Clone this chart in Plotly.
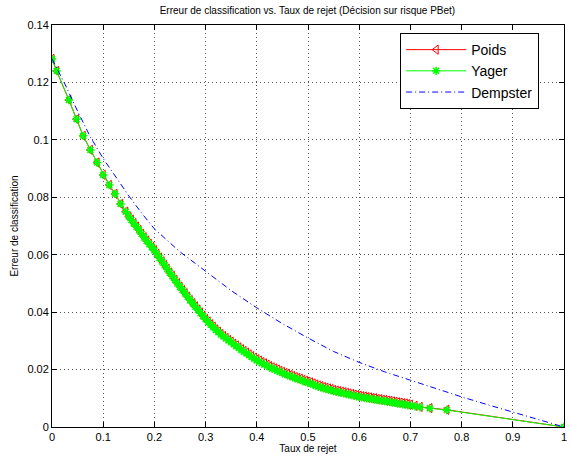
import plotly.graph_objects as go

# ---- data ----
x_main = [0.000, 0.009, 0.033, 0.048, 0.061, 0.075, 0.088, 0.100, 0.112, 0.123, 0.134, 0.144, 0.150,
          0.155, 0.160, 0.165, 0.170, 0.175, 0.180, 0.185, 0.190, 0.195, 0.200,
          0.205, 0.210, 0.215, 0.220, 0.225, 0.230, 0.235, 0.240, 0.245, 0.250,
          0.255, 0.260, 0.265, 0.270, 0.275, 0.280, 0.285, 0.290, 0.295, 0.300,
          0.305, 0.310, 0.315, 0.320, 0.325, 0.330, 0.335, 0.340, 0.345, 0.350,
          0.355, 0.360, 0.365, 0.370, 0.375, 0.380, 0.385, 0.390, 0.395, 0.400,
          0.405, 0.410, 0.415, 0.420, 0.425, 0.430, 0.435, 0.440, 0.445, 0.450,
          0.455, 0.460, 0.465, 0.470, 0.475, 0.480, 0.485, 0.490, 0.495, 0.500,
          0.505, 0.510, 0.515, 0.520, 0.525, 0.530, 0.535, 0.540, 0.545, 0.550,
          0.555, 0.560, 0.565, 0.570, 0.575, 0.580, 0.585, 0.590, 0.595, 0.600,
          0.605, 0.610, 0.615, 0.620, 0.625, 0.630, 0.635, 0.640, 0.645, 0.650,
          0.655, 0.660, 0.665, 0.670, 0.675, 0.680, 0.685, 0.690, 0.695, 0.700,
          0.709, 0.719, 0.738, 0.771, 1.000]

y_yager = [0.1282, 0.1240, 0.1139, 0.1072, 0.1014, 0.0965, 0.0921, 0.0878, 0.0843, 0.0812, 0.0777, 0.0750, 0.0733,
           0.0721, 0.0709, 0.0697, 0.0685, 0.0672, 0.0660, 0.0648, 0.0637, 0.0626, 0.0615,
           0.0602, 0.0589, 0.0576, 0.0563, 0.0550, 0.0537, 0.0525, 0.0512, 0.0500, 0.0488,
           0.0476, 0.0465, 0.0453, 0.0441, 0.0430, 0.0419, 0.0408, 0.0397, 0.0386, 0.0375,
           0.0365, 0.0356, 0.0347, 0.0338, 0.0330, 0.0322, 0.0315, 0.0308, 0.0301, 0.0295,
           0.0288, 0.0281, 0.0275, 0.0268, 0.0262, 0.0256, 0.0250, 0.0244, 0.0238, 0.0232,
           0.0227, 0.0222, 0.0218, 0.0213, 0.0208, 0.0204, 0.0200, 0.0196, 0.0192, 0.0188,
           0.0184, 0.0181, 0.0177, 0.0174, 0.0170, 0.0167, 0.0164, 0.0160, 0.0157, 0.0154,
           0.0151, 0.0148, 0.0144, 0.0141, 0.0138, 0.0135, 0.0133, 0.0130, 0.0128, 0.0125,
           0.0123, 0.0121, 0.0119, 0.0117, 0.0115, 0.0113, 0.0111, 0.0109, 0.0107, 0.0105,
           0.0103, 0.0102, 0.0100, 0.0099, 0.0097, 0.0096, 0.0094, 0.0093, 0.0091, 0.0090,
           0.0088, 0.0087, 0.0085, 0.0084, 0.0082, 0.0081, 0.0079, 0.0078, 0.0076, 0.0075,
           0.0072, 0.0069, 0.0065, 0.0059, 0.0000]

y_poids = [0.1282, 0.1240, 0.1139, 0.1072, 0.1014, 0.0965, 0.0921, 0.0878, 0.0843, 0.0812, 0.0777, 0.0750, 0.0733,
           0.0722, 0.0710, 0.0698, 0.0686, 0.0673, 0.0661, 0.0649, 0.0638, 0.0627, 0.0616,
           0.0603, 0.0590, 0.0577, 0.0564, 0.0551, 0.0538, 0.0526, 0.0513, 0.0501, 0.0489,
           0.0477, 0.0466, 0.0454, 0.0442, 0.0431, 0.0420, 0.0409, 0.0398, 0.0387, 0.0376,
           0.0367, 0.0358, 0.0349, 0.0340, 0.0332, 0.0324, 0.0317, 0.0310, 0.0303, 0.0297,
           0.0290, 0.0284, 0.0277, 0.0271, 0.0265, 0.0259, 0.0253, 0.0247, 0.0241, 0.0236,
           0.0231, 0.0226, 0.0222, 0.0217, 0.0212, 0.0208, 0.0204, 0.0200, 0.0196, 0.0192,
           0.0188, 0.0185, 0.0181, 0.0178, 0.0174, 0.0171, 0.0168, 0.0164, 0.0161, 0.0158,
           0.0155, 0.0152, 0.0148, 0.0145, 0.0142, 0.0139, 0.0137, 0.0134, 0.0132, 0.0129,
           0.0127, 0.0125, 0.0123, 0.0121, 0.0119, 0.0117, 0.0115, 0.0113, 0.0111, 0.0109,
           0.0107, 0.0106, 0.0104, 0.0103, 0.0101, 0.0100, 0.0098, 0.0097, 0.0095, 0.0094,
           0.0092, 0.0091, 0.0089, 0.0088, 0.0086, 0.0085, 0.0083, 0.0082, 0.0080, 0.0078,
           0.0074, 0.0070, 0.0066, 0.0060, 0.0000]

x_dempster = [0.000, 0.025, 0.050, 0.075, 0.100, 0.125, 0.150, 0.175, 0.200, 0.250, 0.300, 0.350,
              0.400, 0.450, 0.500, 0.550, 0.600, 0.650, 0.700, 0.750, 0.800, 0.850, 0.900, 0.950, 1.000]
y_dempster = [0.1282, 0.1195, 0.1100, 0.1010, 0.0935, 0.0870, 0.0805, 0.0745, 0.0690, 0.0610, 0.0543, 0.0475,
              0.0415, 0.0360, 0.0310, 0.0263, 0.0225, 0.0192, 0.0163, 0.0133, 0.0105, 0.0078, 0.0052, 0.0026, 0.0000]

x_ticks = [0, 0.1, 0.2, 0.3, 0.4, 0.5, 0.6, 0.7, 0.8, 0.9, 1]
x_ticklabels = ["0", "0.1", "0.2", "0.3", "0.4", "0.5", "0.6", "0.7", "0.8", "0.9", "1"]
y_ticks = [0, 0.02, 0.04, 0.06, 0.08, 0.1, 0.12, 0.14]
y_ticklabels = ["0", "0.02", "0.04", "0.06", "0.08", "0.1", "0.12", "0.14"]

title_text = "Erreur de classification vs. Taux de rejet (Décision sur risque PBet)"
x_title = "Taux de rejet"
y_title = "Erreur de classification"

FONT = "Liberation Sans, Arial, Helvetica, sans-serif"

fig = go.Figure()
fig.add_trace(go.Scatter(
    x=x_main, y=y_poids, name="Poids", mode="lines+markers",
    line=dict(color="#ff0000", width=1),
    marker=dict(symbol="triangle-left-open", size=8, color="#ff0000",
                line=dict(color="#ff0000", width=1)),
))
fig.add_trace(go.Scatter(
    x=x_main, y=y_yager, name="Yager", mode="lines+markers",
    line=dict(color="#00ff00", width=1),
    marker=dict(symbol="asterisk-open", size=7, color="#00ff00",
                line=dict(color="#00ff00", width=1.5)),
))
fig.add_trace(go.Scatter(
    x=x_dempster, y=y_dempster, name="Dempster", mode="lines",
    line=dict(color="#0000ff", width=1, dash="6px,3px,1px,3px"),
))

axis_common = dict(
    showline=True, linecolor="black", linewidth=1, mirror="ticks",
    ticks="inside", ticklen=5, tickcolor="black", tickwidth=1,
    showgrid=True, gridcolor="#555555", gridwidth=1, griddash="1px,3px",
    zeroline=False, tickfont=dict(family=FONT, size=11, color="black"),
    automargin=False,
)

fig.update_layout(
    width=572, height=461,
    margin=dict(l=52, r=8, t=25, b=34),
    paper_bgcolor="white", plot_bgcolor="white",
    title=dict(text=title_text, x=0.5375, xanchor="center", y=0.985, yanchor="top",
               font=dict(family=FONT, size=10, color="black")),
    xaxis=dict(range=[0, 1], tickvals=x_ticks, ticktext=x_ticklabels,
               title=dict(text=x_title, font=dict(family=FONT, size=10, color="black"), standoff=0),
               **axis_common),
    yaxis=dict(range=[0, 0.14], tickvals=y_ticks, ticktext=y_ticklabels,
               title=dict(text=y_title, font=dict(family=FONT, size=10, color="black"), standoff=6),
               **axis_common),
    legend=dict(x=0.68, y=0.98, xanchor="left", yanchor="top",
                bgcolor="white", bordercolor="black", borderwidth=1,
                font=dict(family=FONT, size=14, color="black"),
                itemwidth=60, tracegroupgap=0),
    showlegend=True,
)

fig.write_html("out.html", config={"displayModeBar": False},
               post_script="document.body.style.margin='0';")
